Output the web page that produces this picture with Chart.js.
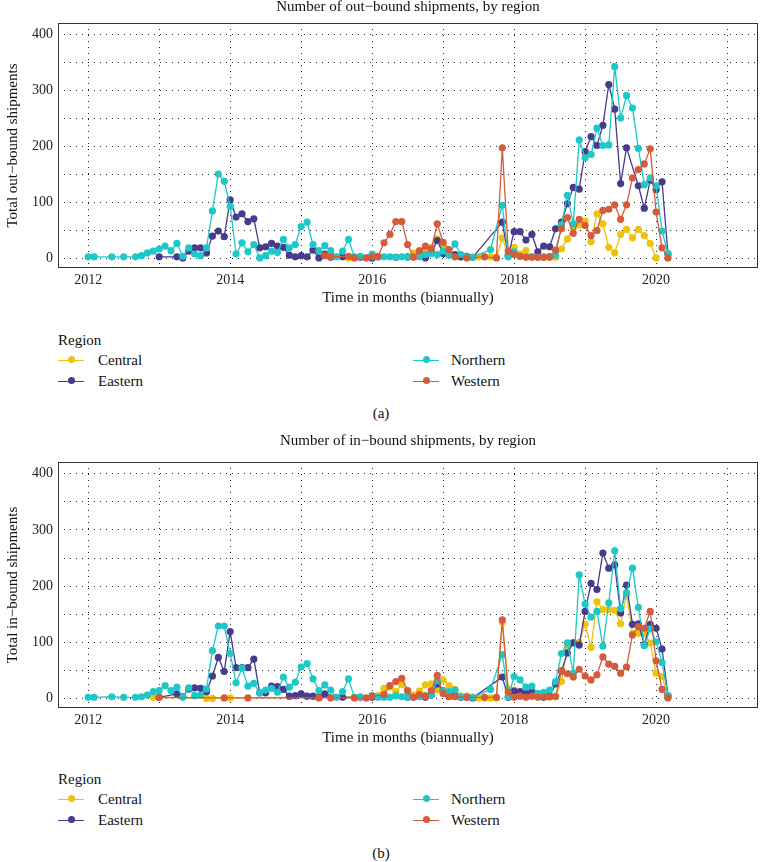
<!DOCTYPE html>
<html>
<head>
<meta charset="utf-8">
<script src="https://cdn.jsdelivr.net/npm/chart.js@4.4.1/dist/chart.umd.min.js"></script>
<style>
  body { margin:0; background:#fff; width:762px; height:862px; position:relative; overflow:hidden;
         font-family:'Liberation Serif', 'DejaVu Serif', serif; color:#111; }
  canvas { position:absolute; left:0; }
  .txt { position:absolute; white-space:nowrap; font-size:15px; line-height:18px; transform:translateY(-50%); }
  .cap { transform:translate(-50%, -50%); }
  .key { position:absolute; width:26px; height:0; border-top:1.5px solid; }
  .key i { position:absolute; left:9.5px; top:-4.8px; width:7px; height:7px; border-radius:50%; }
</style>
</head>
<body>
<canvas id="outChart" width="762" height="320" style="top:0"></canvas>
<canvas id="inChart" width="762" height="330" style="top:430px"></canvas>
<script>
// regions and colours
const regions = ['Central', 'Eastern', 'Northern', 'Western'];
const regionColors = ['#EEC30C', '#463B8C', '#1DC8C9', '#D45B3C'];

// axis ticks
const xGridYears = [2012, 2013, 2014, 2015, 2016, 2017, 2018, 2019, 2020, 2021];
const xLabelYears = [2012, 2014, 2016, 2018, 2020];
const yGridValues = [0, 50, 100, 150, 200, 250, 300, 350, 400];
const yLabelValues = [0, 100, 200, 300, 400];

// months are counted from Jan 2012 (0 = Jan 2012)
// (a) out-bound shipments
const outCentralMonths = [44, 48, 52, 54, 55, 56, 57, 58, 59, 60, 61, 62, 63, 64, 66, 67, 68, 69, 70, 71, 72, 73, 74, 75, 76, 77, 78, 79, 80, 81, 82, 83, 84, 85, 86, 87, 88, 89, 90, 91, 92, 93, 94, 95, 96];
const outCentralValues = [1, 1, 2, 2, 10, 5, 15, 20, 35, 22, 8, 3, 2, 2, 3, 3, 3, 2, 37, 5, 20, 8, 14, 3, 2, 2, 4, 2, 17, 35, 55, 60, 67, 30, 80, 62, 20, 10, 43, 52, 37, 52, 41, 27, 1];

const outEasternMonths = [12, 15, 16, 17, 18, 19, 20, 21, 22, 23, 24, 25, 26, 27, 28, 29, 30, 31, 32, 33, 34, 35, 36, 37, 38, 39, 40, 41, 43, 46, 48, 52, 54, 57, 58, 59, 60, 62, 63, 64, 65, 70, 71, 72, 73, 74, 75, 76, 77, 78, 79, 80, 81, 82, 83, 84, 85, 86, 87, 88, 89, 90, 91, 93, 94, 95, 96, 97, 98];
const outEasternValues = [3, 3, 1, 13, 19, 19, 10, 40, 49, 39, 105, 74, 80, 66, 71, 19, 21, 27, 22, 20, 6, 3, 5, 3, 15, 1, 8, 2, 3, 2, 1, 2, 3, 1, 11, 32, 9, 7, 3, 4, 2, 65, 5, 48, 48, 33, 43, 12, 22, 21, 53, 65, 98, 127, 124, 191, 218, 202, 238, 311, 267, 134, 198, 130, 90, 140, 123, 137, 8];

const outNorthernMonths = [0, 1, 4, 6, 8, 9, 10, 11, 12, 13, 14, 15, 16, 17, 18, 19, 20, 21, 22, 23, 24, 25, 26, 27, 28, 29, 30, 31, 32, 33, 34, 35, 36, 37, 38, 39, 40, 41, 42, 43, 44, 45, 46, 48, 49, 50, 51, 52, 53, 54, 55, 56, 57, 58, 59, 60, 61, 62, 63, 64, 65, 68, 70, 71, 72, 73, 74, 75, 76, 77, 78, 79, 80, 81, 82, 83, 84, 85, 86, 87, 88, 89, 90, 91, 92, 93, 94, 95, 96, 97, 98];
const outNorthernValues = [3, 3, 3, 3, 3, 5, 10, 13, 17, 22, 14, 27, 4, 19, 8, 5, 19, 85, 151, 138, 93, 8, 28, 12, 25, 1, 5, 13, 11, 34, 19, 25, 57, 65, 25, 14, 23, 14, 3, 13, 34, 3, 4, 8, 2, 3, 3, 2, 3, 2, 3, 3, 7, 9, 7, 13, 6, 26, 7, 3, 2, 16, 95, 3, 12, 4, 3, 3, 2, 3, 4, 6, 60, 113, 62, 212, 180, 186, 233, 202, 203, 343, 251, 291, 269, 197, 132, 144, 130, 49, 9];

const outWesternMonths = [40, 41, 44, 45, 47, 48, 49, 50, 51, 52, 53, 54, 55, 56, 57, 58, 59, 60, 61, 62, 64, 67, 69, 70, 71, 72, 73, 74, 75, 76, 77, 78, 79, 80, 81, 82, 83, 84, 85, 86, 87, 88, 89, 90, 91, 92, 93, 94, 95, 96, 97, 98];
const outWesternValues = [5, 3, 4, 1, 1, 3, 4, 28, 43, 66, 66, 25, 2, 14, 22, 17, 62, 29, 16, 3, 1, 3, 1, 198, 13, 7, 4, 2, 2, 2, 2, 2, 15, 53, 73, 45, 70, 59, 41, 50, 86, 88, 96, 70, 96, 144, 159, 169, 196, 83, 19, 1];

// (b) in-bound shipments
const inCentralMonths = [11, 20, 21, 24, 48, 49, 50, 51, 52, 53, 54, 55, 56, 57, 58, 59, 60, 61, 62, 63, 64, 65, 66, 67, 68, 69, 70, 71, 72, 73, 74, 75, 76, 77, 78, 79, 80, 81, 82, 83, 84, 85, 86, 87, 88, 89, 90, 91, 92, 93, 94, 95, 96, 97, 98];
const inCentralValues = [2, 0, 0, 1, 3, 5, 18, 20, 12, 25, 11, 6, 13, 24, 26, 15, 33, 23, 16, 4, 4, 2, 1, 1, 1, 1, 136, 17, 15, 10, 5, 8, 3, 3, 2, 4, 30, 92, 100, 100, 132, 91, 172, 158, 158, 157, 133, 185, 116, 116, 115, 99, 45, 39, 2];

const inEasternMonths = [12, 15, 16, 17, 18, 19, 20, 21, 22, 23, 24, 25, 26, 27, 28, 29, 30, 31, 32, 33, 34, 35, 36, 37, 38, 39, 40, 43, 46, 48, 54, 57, 58, 59, 60, 61, 62, 63, 64, 65, 70, 71, 72, 73, 74, 75, 77, 78, 79, 80, 81, 82, 83, 84, 85, 86, 87, 88, 89, 90, 91, 92, 93, 94, 95, 96, 97, 98];
const inEasternValues = [2, 8, 3, 17, 19, 18, 12, 40, 73, 48, 119, 55, 55, 55, 70, 10, 10, 22, 21, 16, 4, 5, 8, 4, 4, 2, 8, 2, 2, 2, 2, 2, 6, 26, 14, 4, 5, 2, 2, 1, 38, 2, 13, 12, 9, 12, 2, 4, 26, 49, 81, 99, 95, 155, 205, 194, 259, 232, 238, 152, 202, 132, 133, 96, 132, 125, 88, 5];

const inNorthernMonths = [0, 1, 4, 6, 8, 9, 10, 11, 12, 13, 14, 15, 16, 17, 18, 19, 20, 21, 22, 23, 24, 25, 26, 27, 28, 29, 30, 31, 32, 33, 34, 35, 36, 37, 38, 39, 40, 41, 42, 43, 44, 45, 46, 48, 49, 50, 51, 52, 53, 54, 55, 56, 57, 58, 59, 60, 61, 62, 63, 64, 65, 68, 70, 71, 72, 73, 74, 75, 76, 77, 78, 79, 80, 81, 82, 83, 84, 85, 86, 87, 88, 89, 90, 91, 92, 93, 94, 95, 96, 97, 98];
const inNorthernValues = [2, 2, 3, 2, 2, 3, 6, 12, 14, 23, 14, 20, 2, 19, 5, 6, 17, 85, 129, 129, 80, 28, 54, 22, 27, 10, 15, 18, 11, 38, 20, 29, 56, 62, 35, 14, 24, 15, 2, 12, 35, 2, 3, 5, 2, 2, 2, 5, 3, 2, 2, 3, 5, 6, 32, 14, 12, 15, 3, 3, 2, 16, 78, 3, 39, 33, 20, 22, 9, 11, 15, 30, 80, 99, 45, 220, 168, 145, 155, 93, 170, 263, 160, 188, 232, 162, 94, 124, 101, 64, 5];

const inWesternMonths = [12, 23, 27, 39, 41, 45, 47, 48, 50, 51, 52, 53, 54, 55, 56, 57, 58, 59, 60, 61, 62, 64, 67, 69, 70, 71, 72, 73, 74, 75, 76, 77, 78, 79, 80, 81, 82, 83, 84, 85, 86, 87, 88, 89, 90, 91, 92, 93, 94, 95, 96, 97, 98];
const inWesternValues = [2, 1, 1, 1, 1, 1, 1, 4, 7, 23, 30, 36, 14, 2, 7, 4, 14, 41, 9, 3, 3, 2, 2, 2, 140, 11, 2, 4, 2, 4, 2, 3, 3, 3, 49, 44, 38, 52, 40, 33, 42, 74, 61, 57, 45, 56, 113, 128, 125, 155, 67, 16, 1];

const serif = "'Liberation Serif', 'DejaVu Serif', serif";

function toPoints(months, values) {
    return months.map((m, i) => ({ x: 2012 + m / 12, y: values[i] }));
}

// title + panel frame
const panelDecor = {
    id: 'panelDecor',
    afterDraw(chart, args, opts) {
        const { ctx, chartArea: a } = chart;
        ctx.save();
        ctx.strokeStyle = '#333';
        ctx.lineWidth = 1;
        ctx.strokeRect(a.left + 0.5, a.top + 0.5, a.right - a.left - 1, a.bottom - a.top - 1);
        ctx.fillStyle = '#111';
        ctx.font = '15px ' + serif;
        ctx.textAlign = 'center';
        ctx.textBaseline = 'middle';
        ctx.fillText(opts.text, (a.left + a.right) / 2, opts.y);
        ctx.restore();
    }
};

function buildChart(canvasId, titleText, titleY, yTitle, padTop, seriesMonths, seriesValues) {
    const datasets = regions.map((name, i) => ({
        label: name,
        data: toPoints(seriesMonths[i], seriesValues[i]),
        borderColor: regionColors[i],
        backgroundColor: regionColors[i],
        borderWidth: 1.3,
        pointRadius: 3.6,
        pointBorderWidth: 0,
        pointBackgroundColor: regionColors[i],
        tension: 0,
        order: regions.length - i
    }));

    return new Chart(document.getElementById(canvasId), {
        type: 'line',
        data: { datasets: datasets },
        plugins: [panelDecor],
        options: {
            responsive: false,
            animation: false,
            devicePixelRatio: 1,
            layout: { padding: { top: padTop, right: 2, left: 0, bottom: 0 } },
            plugins: {
                legend: { display: false },
                tooltip: { enabled: false },
                panelDecor: { text: titleText, y: titleY }
            },
            scales: {
                x: {
                    type: 'linear',
                    min: 2011.575,
                    max: 2021.435,
                    afterBuildTicks: scale => { scale.ticks = xGridYears.map(v => ({ value: v })); },
                    afterFit: scale => { scale.height = 52; },
                    ticks: {
                        autoSkip: false,
                        maxRotation: 0,
                        padding: 4,
                        color: '#222',
                        font: { family: serif, size: 14 },
                        callback: v => xLabelYears.includes(v) ? String(v) : ''
                    },
                    grid: { color: 'rgba(0,0,0,0.85)', lineWidth: 1, drawTicks: false },
                    border: { display: false, dash: [1, 5] },
                    title: {
                        display: true,
                        text: 'Time in months (biannually)',
                        color: '#111',
                        font: { family: serif, size: 15 },
                        padding: { top: 0, bottom: 13 }
                    }
                },
                y: {
                    min: -17,
                    max: 421,
                    afterBuildTicks: scale => { scale.ticks = yGridValues.map(v => ({ value: v })); },
                    afterFit: scale => { scale.width = 58; },
                    ticks: {
                        padding: 5,
                        color: '#222',
                        font: { family: serif, size: 14 },
                        callback: v => yLabelValues.includes(v) ? String(v) : ''
                    },
                    grid: { color: 'rgba(0,0,0,0.85)', lineWidth: 1, drawTicks: false },
                    border: { display: false, dash: [1, 5] },
                    title: {
                        display: true,
                        text: yTitle,
                        color: '#111',
                        font: { family: serif, size: 15 },
                        padding: { top: 4, bottom: 0 }
                    }
                }
            }
        }
    });
}

function addText(text, x, y, cls) {
    const d = document.createElement('div');
    d.className = 'txt' + (cls ? ' ' + cls : '');
    d.style.left = x + 'px';
    d.style.top = y + 'px';
    d.textContent = text;
    document.body.appendChild(d);
}

function addLegend(top, caption, captionY) {
    addText('Region', 58, top);
    const cols = [[58, 98], [413, 451]];
    const rowY = [top + 20, top + 41];
    // ggplot fills the two-column legend by column
    regions.forEach((name, i) => {
        const col = cols[Math.floor(i / 2)];
        const y = rowY[i % 2];
        const k = document.createElement('div');
        k.className = 'key';
        k.style.left = col[0] + 'px';
        k.style.top = y + 'px';
        k.style.borderColor = regionColors[i];
        const dot = document.createElement('i');
        dot.style.background = regionColors[i];
        k.appendChild(dot);
        document.body.appendChild(k);
        addText(name, col[1], y);
    });
    addText(caption, 381, captionY, 'cap');
}

buildChart('outChart', 'Number of out\u2212bound shipments, by region', 7,
    'Total out\u2212bound shipments', 23,
    [outCentralMonths, outEasternMonths, outNorthernMonths, outWesternMonths],
    [outCentralValues, outEasternValues, outNorthernValues, outWesternValues]);

buildChart('inChart', 'Number of in\u2212bound shipments, by region', 11,
    'Total in\u2212bound shipments', 32,
    [inCentralMonths, inEasternMonths, inNorthernMonths, inWesternMonths],
    [inCentralValues, inEasternValues, inNorthernValues, inWesternValues]);

addLegend(340, '(a)', 413);
addLegend(779, '(b)', 853);
</script>
</body>
</html>
